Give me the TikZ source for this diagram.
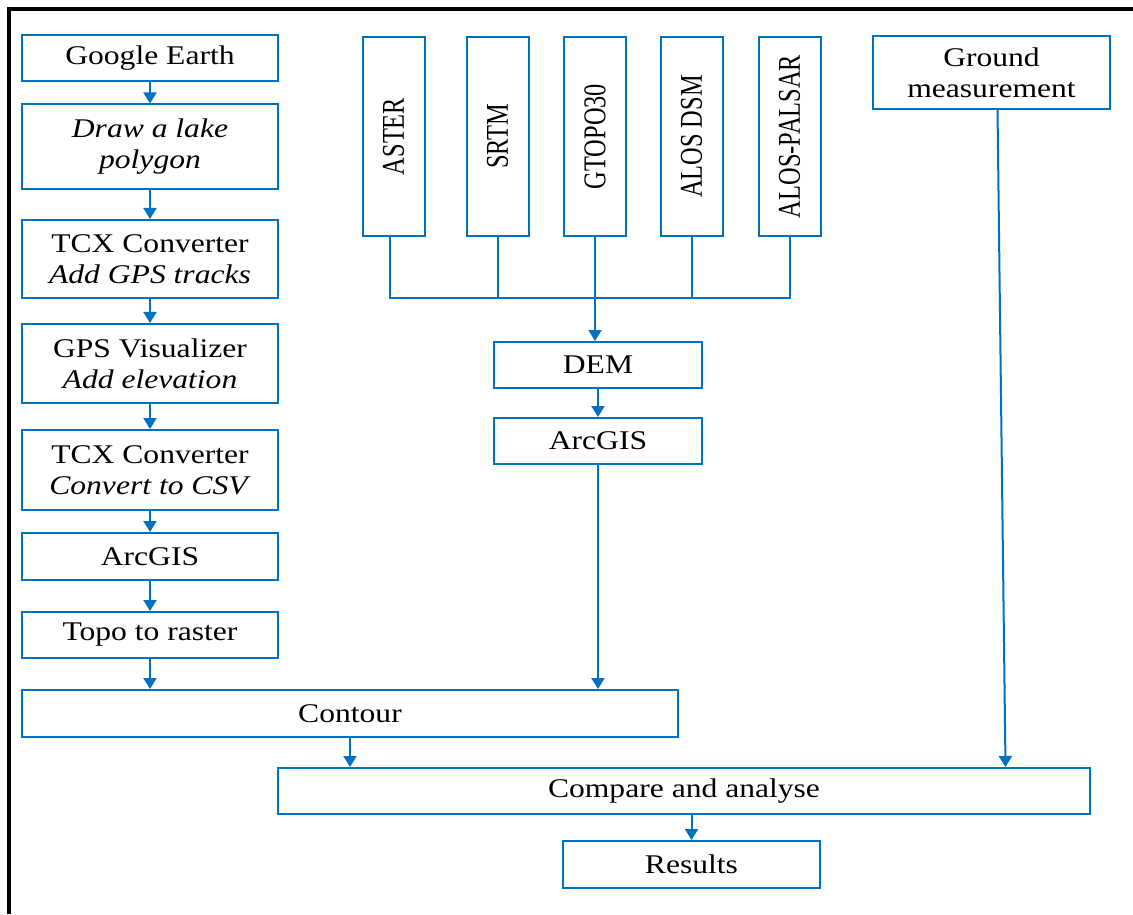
\documentclass[tikz,border=0pt]{standalone}
\usepackage{fontspec}
\setmainfont{Liberation Serif}[FakeStretch=1.17]
\newfontfamily\sidefont{Liberation Serif}
\usepackage{tikz}
\usetikzlibrary{arrows.meta}

\definecolor{boxblue}{RGB}{0,112,192}
\newcommand{\sidetext}[1]{\rotatebox{90}{\scalebox{1}[1.3]{#1}}}

\begin{document}
\begin{tikzpicture}[x=0.5pt, y=-0.5pt,
    box/.style={draw=boxblue, line width=1pt, inner sep=0pt, align=center,
      font=\fontsize{13.5}{15.5}\selectfont},
    srcbox/.style={box, minimum width=31pt, minimum height=99.5pt,
      font=\sidefont\fontsize{12.2}{14}\selectfont},
    link/.style={draw=boxblue, line width=1pt},
    arr/.style={link, -{Triangle[width=6.5pt,length=5.5pt]}}]
    \useasboundingbox (0,0) rectangle (1133,914);
    % frame
    \draw[line width=1.6pt] (9,914) -- (9,9) -- (1133,9);
    % Lake survey column
    \node[box, minimum width=128pt, minimum height=23pt] (earth) at (150,58) {Google Earth};
    \node[box, minimum width=128pt, minimum height=42.5pt] (lake) at (150,147) {\textit{Draw a lake}\\\textit{polygon}};
    \node[box, minimum width=128pt, minimum height=39pt] (tcxa) at (150,259) {TCX Converter\\\textit{Add GPS tracks}};
    \node[box, minimum width=128pt, minimum height=39.5pt] (gpsvis) at (150,363.5) {GPS Visualizer\\\textit{Add elevation}};
    \node[box, minimum width=128pt, minimum height=40pt] (tcxb) at (150,470) {TCX Converter\\\textit{Convert to CSV}};
    \node[box, minimum width=128pt, minimum height=23.5pt] (gisa) at (150,556.5) {ArcGIS};
    \node[box, minimum width=128pt, minimum height=23pt] (topo) at (150,635) {Topo to raster};
    % DEM sources
    \node[srcbox] (aster) at (393.5,136.5) {\sidetext{ASTER}};
    \node[srcbox] (srtm) at (497.5,136.5) {\sidetext{SRTM}};
    \node[srcbox] (gtopo) at (595,136.5) {\sidetext{GTOPO30}};
    \node[srcbox] (alosdsm) at (691.5,136.5) {\sidetext{ALOS DSM}};
    \node[srcbox] (palsar) at (789.5,136.5) {\sidetext{ALOS-PALSAR}};
    \node[box, minimum width=104pt, minimum height=23pt] (dem) at (598,365) {DEM};
    \node[box, minimum width=104pt, minimum height=23pt] (gisb) at (598,441) {ArcGIS};
    \node[box, minimum width=118.5pt, minimum height=36.5pt] (ground) at (991.5,72.5) {Ground\\measurement};
    % Bottom
    \node[box, minimum width=328pt, minimum height=23.5pt] (contour) at (350,713.5) {Contour};
    \node[box, minimum width=406pt, minimum height=23pt] (compare) at (684,791) {Compare and analyse};
    \node[box, minimum width=128.5pt, minimum height=23.5pt] (results) at (691.5,864.5) {Results};
    % Connectors
    \draw[arr] (earth) -- (lake);
    \draw[arr] (lake) -- (tcxa);
    \draw[arr] (tcxa) -- (gpsvis);
    \draw[arr] (gpsvis) -- (tcxb);
    \draw[arr] (tcxb) -- (gisa);
    \draw[arr] (gisa) -- (topo);
    \draw[arr] (topo) -- (topo |- contour.north);
    \coordinate (bus) at (0,298);
    \draw[link] ([xshift=-2pt]aster.south) -- ([xshift=-2pt]aster.south |- bus) -- (palsar.south |- bus) -- (palsar.south);
    \draw[link] (srtm.south) -- (srtm.south |- bus);
    \draw[link] (alosdsm.south) -- (alosdsm.south |- bus);
    \draw[arr] (gtopo.south) -- (gtopo.south |- dem.north);
    \draw[arr] (dem) -- (gisb);
    \draw[arr] (gisb) -- (gisb.south |- contour.north);
    \draw[arr] (contour.south) -- (contour.south |- compare.north);
    \draw[arr] ([xshift=3pt]ground.south) -- ([xshift=7pt]ground.south |- compare.north);
    \draw[arr] (results.north |- compare.south) -- (results.north);
\end{tikzpicture}
\end{document}
